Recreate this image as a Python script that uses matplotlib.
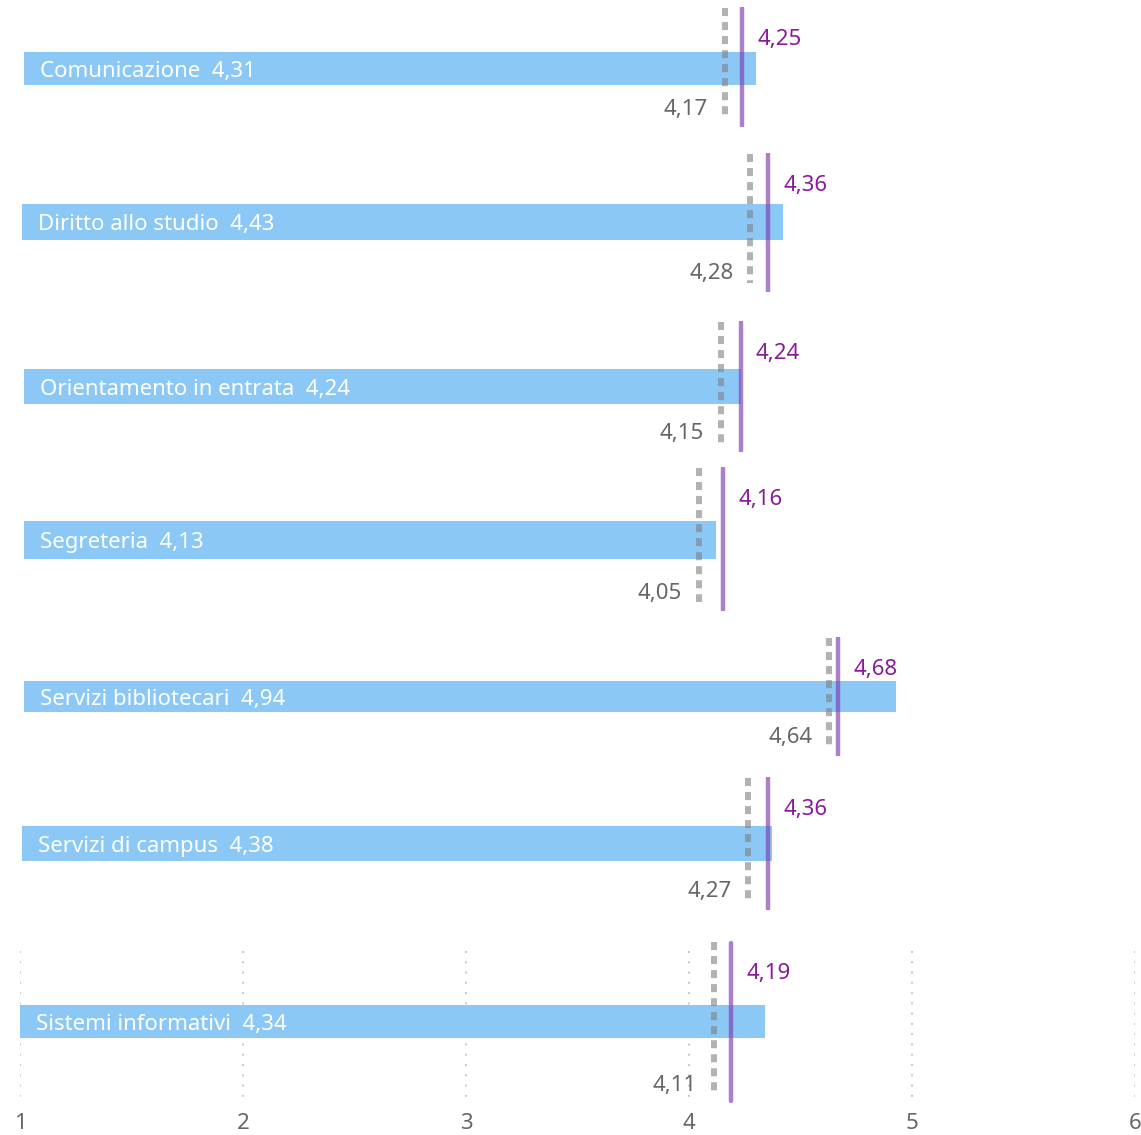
import matplotlib.pyplot as plt

plt.rcParams['font.family'] = ['Noto Sans', 'DejaVu Sans']
plt.rcParams['lines.scale_dashes'] = False

# dati
categorie = ["Comunicazione", "Diritto allo studio", "Orientamento in entrata", "Segreteria",
             "Servizi bibliotecari", "Servizi di campus", "Sistemi informativi"]
valori = [4.31, 4.43, 4.24, 4.13, 4.94, 4.38, 4.34]
valori_viola = [4.25, 4.36, 4.24, 4.16, 4.68, 4.36, 4.19]
valori_grigi = [4.17, 4.28, 4.15, 4.05, 4.64, 4.27, 4.11]
ticks = [1, 2, 3, 4, 5, 6]

W, H = 1141, 1135
# layout dei pannelli in pixel: top, bottom, bar_top, bar_bottom, left, right
pannelli = [
    (7, 127, 52, 85, 24, 1129),
    (153, 292, 204, 240, 22, 1132),
    (321, 452, 369, 404, 24, 1130),
    (467, 611, 521, 559, 24, 1130),
    (637, 756, 681, 712, 24, 1130),
    (777, 910, 826, 861, 22, 1132),
    (941, 1103, 1005, 1038, 20, 1135),
]

def virgola(v):
    return f"{v:.2f}".replace('.', ',')

fig = plt.figure(figsize=(W / 100, H / 100), dpi=100)

for i, (top, bot, btop, bbot, left, right) in enumerate(pannelli):
    h = bot - top
    ax = fig.add_axes([left / W, 1 - bot / H, (right - left) / W, h / H])
    ax.set_xlim(1, 6)
    ax.set_ylim(0, 1)
    for s in ax.spines.values():
        s.set_visible(False)

    yc = 1 - ((btop + bbot) / 2 - top) / h
    bh = (bbot - btop) / h
    ax.barh(yc, valori[i] - 1, left=1, height=bh, color='#8cc8f6', zorder=2)
    ax.annotate(f"{categorie[i]}  {virgola(valori[i])}", (1, yc), xytext=(11.5, -2),
                textcoords='offset points', color='white', fontsize=16,
                va='center', ha='left', zorder=5)

    # linea grigia tratteggiata, disegnata dall'alto verso il basso
    ax.plot([valori_grigi[i]] * 2, [1 - 1 / h, 9 / h], color='#808080', alpha=0.6, lw=4.3,
            dashes=(5.8, 4.3), solid_capstyle='butt', zorder=3)
    ax.plot([valori_viola[i]] * 2, [0.01, 0.99], color='#7d3cb0', alpha=0.65, lw=3.2,
            solid_capstyle='round', zorder=4)

    ax.annotate(virgola(valori_viola[i]), (valori_viola[i], 1 - 33 / h),
                xytext=(11, 0), textcoords='offset points', color='#8a1a9b',
                fontsize=16, va='center', ha='left')
    ax.annotate(virgola(valori_grigi[i]), (valori_grigi[i], 18 / h),
                xytext=(-12, 0), textcoords='offset points', color='#666666',
                fontsize=16, va='center', ha='right')

    if i == len(pannelli) - 1:
        ax.set_xticks(ticks)
        ax.set_xticklabels([str(t) for t in ticks], color='#666666', fontsize=16)
        ax.tick_params(axis='x', length=0, pad=7)
        ax.set_yticks([])
        for t in ticks:
            ax.plot([t, t], [1 - 10 / h, 0], color='#c8c8c8', lw=1.4,
                    dashes=(1.4, 6), zorder=0)
    else:
        ax.set_xticks([])
        ax.set_yticks([])

fig.savefig('out.png', dpi=100)
